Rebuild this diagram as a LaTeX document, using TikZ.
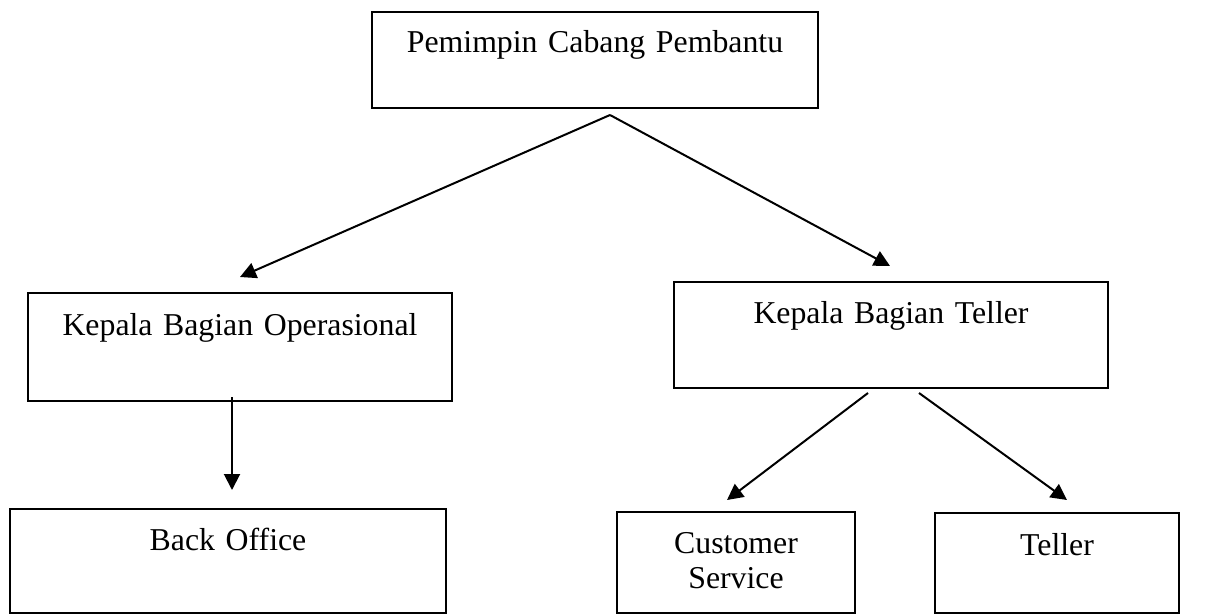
\documentclass[tikz,border=0pt]{standalone}
\usepackage{fontspec}
\setmainfont{Liberation Serif}
\usetikzlibrary{arrows.meta,calc}
\begin{document}
\begin{tikzpicture}[x=1pt,y=-1pt,
  orgbox/.style={draw,line width=2.3pt,anchor=north west,inner sep=0pt,outer sep=0pt,
    align=center,font=\fontsize{31.8}{35}\selectfont},
  arr/.style={line width=2pt,-{Triangle[length=16pt,width=16pt]}}]
\useasboundingbox (0,0) rectangle (1214,615);
% boxes: (left,top), width, baseline offset, depth
\node[orgbox,text width=446pt,text height=41pt,text depth=55pt] (A) at (372,12) {Pemimpin Cabang Pembantu};
\node[orgbox,text width=424pt,text height=42pt,text depth=66pt] (B) at (28,293) {Kepala Bagian Operasional};
\node[orgbox,text width=434pt,text height=41pt,text depth=65pt] (C) at (674,282) {Kepala Bagian Teller};
\node[orgbox,text width=436pt,text height=41pt,text depth=63pt] (D) at (10,509) {Back Office};
\node[orgbox,text width=238pt,text height=41pt,text depth=60pt] (E) at (617,512) {Customer\\Service};
\node[orgbox,text width=244pt,text height=42pt,text depth=58pt] (F) at (935,513) {Teller};
% connector end points
\coordinate (apex) at ($(A.south)+(15,7)$);
\coordinate (tB) at ($(B.north)+(0,-16)$);
\coordinate (tC) at ($(C.north)+(-1,-16)$);
\coordinate (sB) at ($(B.south)+(-8,-4)$);
\coordinate (tD) at ($(D.north)+(4,-19)$);
\coordinate (sC1) at ($(C.south)+(-23,5)$);
\coordinate (sC2) at ($(C.south)+(28,5)$);
\coordinate (tE) at ($(E.north)+(-9,-12)$);
\coordinate (tF) at ($(F.north)+(10,-13)$);
\draw[arr] (apex) -- (tB);
\draw[arr] (apex) -- (tC);
\draw[arr] (sB) -- (tD);
\draw[arr] (sC1) -- (tE);
\draw[arr] (sC2) -- (tF);
\end{tikzpicture}
\end{document}
